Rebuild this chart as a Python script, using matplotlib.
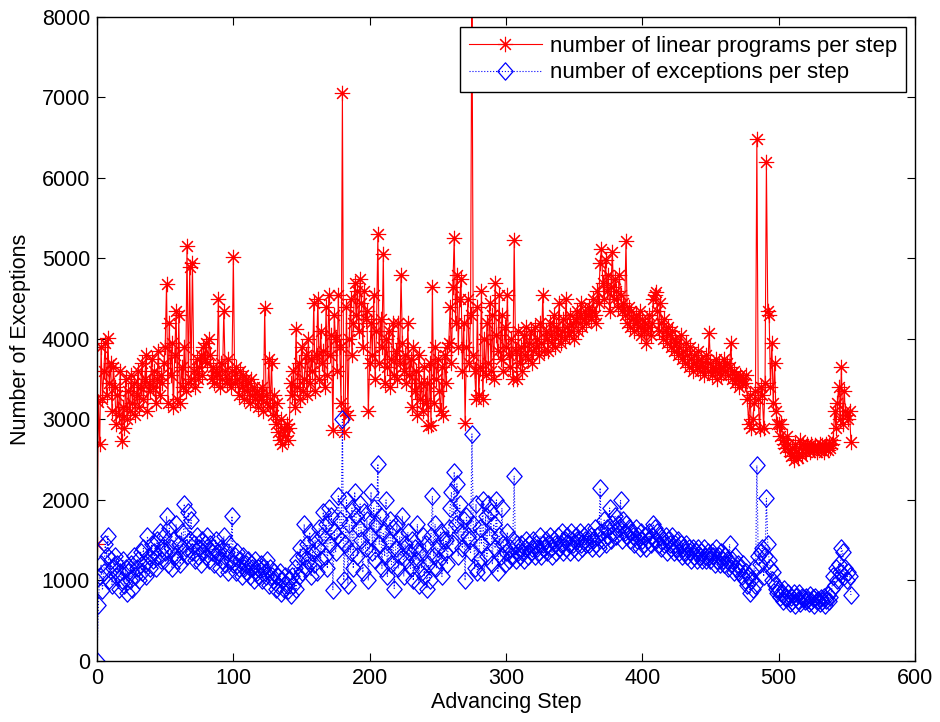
"""Число линейных программ и исключений на каждом шаге продвижения."""

import matplotlib

matplotlib.use("Agg")
import matplotlib.pyplot as plt
import numpy as np
from matplotlib.path import Path

# ------------------------------------------------------------------ данные

lp_per_step = [
    1450, 3220, 2690, 3900, 3250, 3600, 3950, 3300, 4010, 3450,
    3700, 3100, 3650, 3400, 2950, 3300, 3050, 3600, 2730, 3150,
    2900, 3500, 3000, 3350, 3100, 3550, 3200, 3450, 3050, 3300,
    3600, 3150, 3400, 3700, 3250, 3500, 3800, 3100, 3450, 3350,
    3750, 3400, 3600, 3200, 3500, 3850, 3300, 3550, 3450, 3700,
    3900, 4680, 3200, 4200, 3550, 3950, 3150, 3800, 4350, 3250,
    4300, 3200, 3650, 3400, 3900, 3350, 5160, 3450, 4900, 3500,
    4950, 3600, 3400, 3750, 3500, 3650, 3800, 3550, 3900, 3750,
    3950, 3700, 4000, 3800, 3500, 3650, 3450, 3600, 3550, 4500,
    3400, 3700, 3500, 4350, 3600, 3450, 3750, 3500, 3400, 3600,
    5020, 3450, 3650, 3500, 3300, 3600, 3400, 3550, 3250, 3500,
    3350, 3450, 3200, 3500, 3300, 3400, 3250, 3350, 3150, 3300,
    3250, 3400, 3100, 4380, 3300, 3200, 3750, 3150, 3700, 3050,
    3300, 2950, 3200, 2850, 2750, 3000, 2700, 2900, 2800, 2950,
    2750, 2900, 3450, 3300, 3600, 3150, 4120, 3400, 3700, 3250,
    3900, 3350, 3500, 3800, 3300, 4000, 3450, 3750, 3600, 4450,
    3350, 3800, 4500, 3500, 4100, 3700, 3850, 3400, 4400, 3550,
    4550, 3800, 4050, 2870, 4300, 4000, 3600, 4550, 3900, 3200,
    7060, 2850, 3100, 4400, 3050, 4000, 4500, 3800, 4200, 4700,
    4300, 4600, 4100, 4750, 4450, 3900, 4600, 4250, 4350, 3100,
    3700, 4200, 3800, 4550, 3500, 4100, 5300, 3700, 4250, 3900,
    5050, 3450, 4000, 3650, 4100, 3400, 3750, 4200, 3550, 3850,
    3500, 4200, 3700, 4800, 3950, 3600, 3800, 3450, 4200, 3550,
    3750, 3150, 3900, 3350, 3600, 3050, 3800, 3250, 3450, 3100,
    3650, 3200, 3450, 2920, 3700, 2930, 4650, 3200, 3900, 3500,
    3750, 3350, 3100, 3650, 3050, 3800, 3450, 3900, 3950, 4400,
    3700, 4650, 5250, 4200, 4800, 3900, 4500, 4750, 3600, 4200,
    2960, 3900, 4500, 3700, 4300, 8600, 3800, 3600, 3250, 4400,
    3300, 3650, 4600, 3250, 4000, 3550, 4200, 3700, 4450, 3600,
    4300, 3500, 4700, 4050, 3850, 4550, 3750, 4300, 3600, 4150,
    3900, 4550, 3800, 3650, 4000, 3500, 5230, 3850, 3500, 4100,
    3700, 3900, 3600, 4050, 3800, 4150, 3750, 3950, 4100, 3700,
    3850, 4150, 3900, 4000, 3800, 4200, 3950, 4550, 3850, 4100,
    4000, 3850, 4200, 4050, 3950, 4300, 3900, 4150, 4050, 4450,
    3950, 4100, 4250, 4000, 4500, 4150, 4050, 4300, 4100, 4200,
    4000, 4250, 4350, 4100, 4300, 4450, 4150, 4250, 4350, 4200,
    4300, 4400, 4250, 4350, 4500, 4300, 4200, 4600, 4450, 4950,
    5120, 4700, 4500, 4980, 4600, 4800, 4350, 4650, 5080, 4500,
    4750, 4600, 4400, 4800, 4550, 4350, 4450, 4300, 5220, 4200,
    4400, 4150, 4350, 4250, 4100, 4300, 4200, 4150, 4350, 4050,
    4250, 4100, 4200, 3950, 4150, 4300, 4050, 4200, 4500, 4550,
    4580, 4350, 4100, 4450, 4200, 4000, 4250, 4100, 3950, 4150,
    4050, 3900, 4100, 3850, 4000, 3950, 3800, 3900, 4050, 3750,
    3850, 3700, 3950, 3800, 3650, 3900, 3750, 3600, 3800, 3700,
    3650, 3850, 3600, 3750, 3700, 3550, 3650, 3800, 3600, 4080,
    3700, 3550, 3650, 3600, 3750, 3500, 3700, 3600, 3550, 3650,
    3750, 3600, 3700, 3550, 3650, 3950, 3500, 3600, 3450, 3550,
    3500, 3400, 3550, 3450, 3500, 3450, 3550, 3250, 2950, 3300,
    2900, 3000, 3200, 3350, 6480, 3250, 2880, 3400, 3300, 2900,
    3450, 6200, 4350, 4300, 3400, 3950, 3200, 3700, 3100, 2950,
    2950, 2800, 2950, 2750, 2700, 2650, 2800, 2700, 2600, 2550,
    2650, 2500, 2700, 2600, 2520, 2650, 2750, 2550, 2700, 2650,
    2600, 2700, 2650, 2600, 2700, 2650, 2620, 2680, 2600, 2650,
    2700, 2620, 2680, 2600, 2650, 2700, 2620, 2680, 2650, 2700,
    2750, 3100, 2900, 3200, 3400, 3000, 3650, 2950, 3350, 3100,
    3050, 3000, 3100, 2720,
]

exc_per_step = [
    0, 700, 1050, 1200, 880, 1100, 1450, 1300, 1550, 1000,
    1250, 950, 1150, 1300, 1050, 1200, 900, 1100, 1000, 1250,
    950, 1150, 850, 1100, 1000, 1200, 900, 1300, 1050, 1150,
    1250, 1000, 1350, 1100, 1400, 1200, 1050, 1550, 1300, 1150,
    1450, 1250, 1350, 1150, 1500, 1300, 1600, 1250, 1400, 1550,
    1350, 1800, 1200, 1650, 1400, 1150, 1500, 1300, 1700, 1250,
    1450, 1200, 1600, 1350, 1950, 1400, 1300, 1850, 1500, 1750,
    1350, 1450, 1250, 1550, 1300, 1400, 1200, 1500, 1350, 1450,
    1300, 1550, 1250, 1450, 1350, 1400, 1200, 1500, 1300, 1350,
    1150, 1400, 1250, 1550, 1200, 1350, 1100, 1450, 1250, 1800,
    1200, 1300, 1100, 1350, 1150, 1250, 1050, 1300, 1150, 1200,
    1100, 1250, 1050, 1200, 1150, 1000, 1250, 1100, 1150, 1050,
    1200, 1000, 1150, 1100, 1050, 1250, 950, 1150, 1050, 1000,
    1100, 900, 1050, 950, 1100, 850, 1000, 900, 1050, 950,
    880, 1000, 820, 1050, 950, 1150, 900, 1250, 1050, 1400,
    1100, 1300, 1700, 1150, 1450, 1250, 1600, 1050, 1350, 1200,
    1500, 1100, 1400, 1650, 1250, 1550, 1850, 1300, 1700, 1150,
    1900, 1450, 1800, 880, 1600, 1350, 1550, 2050, 1750, 1500,
    3000, 1000, 1450, 2000, 950, 1700, 1350, 1900, 1150, 2100,
    1800, 1300, 1650, 1950, 1500, 1100, 1850, 1400, 1750, 1000,
    1550, 2100, 1350, 1900, 1250, 1700, 2450, 1450, 1800, 1150,
    1600, 1300, 2000, 1050, 1500, 1750, 1200, 1650, 900, 1400,
    1700, 1150, 1550, 1300, 1800, 1050, 1450, 1250, 1600, 1350,
    1150, 1500, 1000, 1400, 1250, 1700, 950, 1350, 1150, 1550,
    1050, 1450, 900, 1200, 1000, 1550, 2050, 1300, 1700, 1150,
    1400, 1250, 1600, 1050, 1500, 1350, 1500, 1200, 1650, 1900,
    2100, 1450, 2350, 1700, 2200, 1300, 1950, 1600, 1400, 1750,
    1000, 1800, 1550, 1500, 1350, 2820, 1700, 1150, 1950, 1100,
    1250, 1650, 1450, 2000, 1100, 1800, 1300, 1950, 1550, 1850,
    1200, 1700, 1400, 2000, 1100, 1550, 1300, 1900, 1450, 1200,
    1350, 1600, 1250, 1400, 1300, 1500, 2300, 1250, 1450, 1350,
    1300, 1450, 1350, 1250, 1400, 1500, 1300, 1450, 1350, 1400,
    1500, 1300, 1450, 1400, 1350, 1550, 1300, 1450, 1400, 1500,
    1350, 1450, 1550, 1400, 1300, 1500, 1450, 1350, 1550, 1400,
    1450, 1600, 1350, 1500, 1400, 1550, 1450, 1350, 1600, 1450,
    1400, 1550, 1500, 1350, 1600, 1450, 1400, 1550, 1500, 1450,
    1600, 1450, 1550, 1400, 1500, 1650, 1450, 1550, 1400, 2150,
    1600, 1500, 1750, 1450, 1650, 1550, 1900, 1500, 1700, 1600,
    1800, 1550, 1700, 1650, 2000, 1500, 1750, 1600, 1700, 1550,
    1650, 1500, 1600, 1550, 1450, 1650, 1500, 1550, 1400, 1600,
    1500, 1450, 1550, 1400, 1500, 1600, 1450, 1550, 1700, 1650,
    1500, 1600, 1450, 1550, 1400, 1500, 1450, 1550, 1350, 1500,
    1450, 1400, 1550, 1350, 1450, 1400, 1500, 1350, 1450, 1300,
    1400, 1350, 1450, 1300, 1400, 1350, 1250, 1400, 1300, 1350,
    1250, 1400, 1300, 1350, 1250, 1400, 1300, 1250, 1350, 1300,
    1250, 1350, 1300, 1200, 1400, 1250, 1300, 1200, 1350, 1250,
    1200, 1300, 1250, 1150, 1450, 1200, 1250, 1100, 1300, 1150,
    1200, 1100, 1150, 1050, 1200, 1000, 1100, 950, 1050, 850,
    1000, 900, 1150, 950, 2430, 1300, 1200, 1350, 1400, 1050,
    1300, 2020, 1450, 1250, 1150, 1000, 1100, 950, 900, 850,
    900, 800, 850, 750, 900, 800, 780, 850, 720, 800,
    750, 850, 700, 800, 760, 850, 720, 800, 780, 740,
    800, 760, 720, 820, 750, 780, 700, 800, 740, 760,
    720, 780, 750, 800, 700, 760, 820, 750, 800, 900,
    1050, 950, 1150, 1000, 1200, 1100, 1400, 1350, 1050, 1150,
    1000, 1100, 1050, 820,
]

assert len(lp_per_step) == len(exc_per_step)
steps = np.arange(len(lp_per_step))

x_ticks = [0, 100, 200, 300, 400, 500, 600]
y_ticks = [0, 1000, 2000, 3000, 4000, 5000, 6000, 7000, 8000]

# ------------------------------------------------------------------ маркеры в духе MATLAB

asterisk = (8, 2, 0)  # «*» = «+» и «x» вместе
diamond = Path([(0, 1), (0.88, 0), (0, -1), (-0.88, 0), (0, 1)],
               [Path.MOVETO, Path.LINETO, Path.LINETO, Path.LINETO, Path.CLOSEPOLY])

# ------------------------------------------------------------------ рисунок

plt.rcParams["font.family"] = ["Liberation Sans", "DejaVu Sans"]
plt.rcParams["font.size"] = 15.5

fig = plt.figure(figsize=(9.4, 7.22), dpi=100)
ax = fig.add_axes([0.1032, 0.0845, 0.8702, 0.892])

ax.plot(steps, lp_per_step, color="red", lw=0.8, marker=asterisk,
        ms=11, mew=0.8, label="number of linear programs per step")
ax.plot(steps, exc_per_step, color="blue", lw=0.8, ls=":", marker=diamond,
        ms=12.5, mew=0.9, mfc="none", label="number of exceptions per step")

ax.set_xlim(0, 600)
ax.set_ylim(0, 8000)
ax.set_xticks(x_ticks)
ax.set_yticks(y_ticks)
ax.tick_params(direction="in", length=6, width=0.8, top=True, right=True,
               labelsize=15.5, pad=5)
for s in ax.spines.values():
    s.set_linewidth(1.0)

ax.set_xlabel("Advancing Step", fontsize=15.5, labelpad=2)
ax.set_ylabel("Number of Exceptions", fontsize=15.5, labelpad=8)

leg = ax.legend(loc="upper right", bbox_to_anchor=(0.989, 0.9845),
                borderaxespad=0, fancybox=False, framealpha=1,
                edgecolor="black", handlelength=3.3, handletextpad=0.35,
                labelspacing=0.25, borderpad=0.4, fontsize=16, numpoints=1)
leg.get_frame().set_linewidth(1.0)

fig.savefig("out.png", dpi=100)
plt.close(fig)
